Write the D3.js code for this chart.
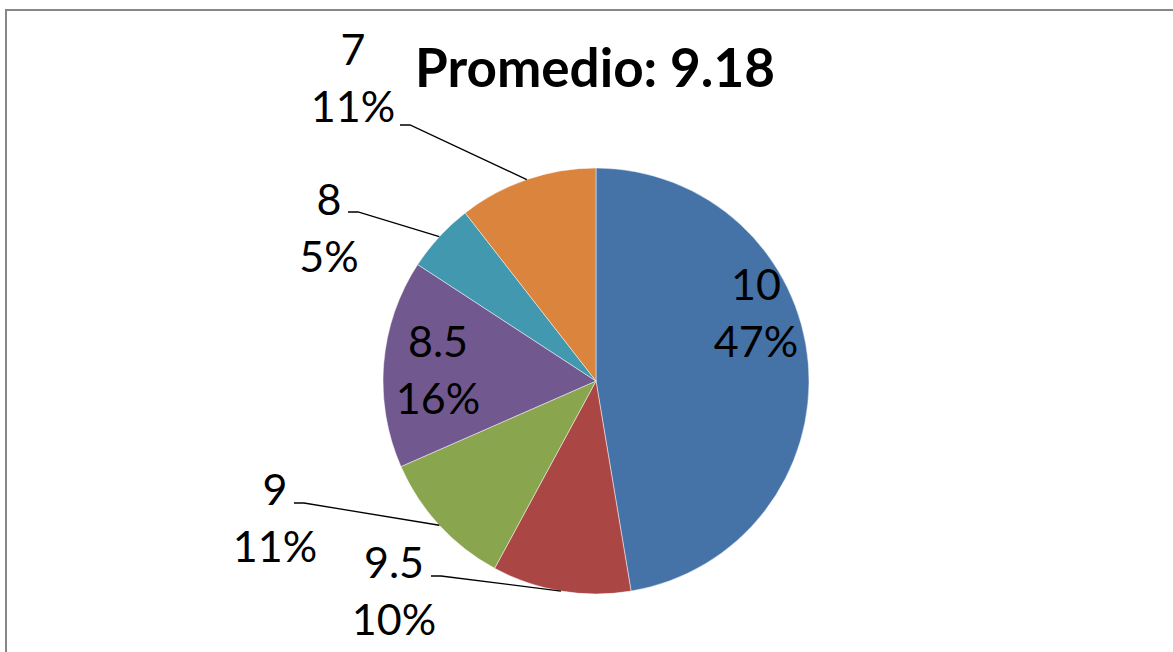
<!DOCTYPE html>
<html>
<head>
<meta charset="utf-8">
<script src="https://cdn.jsdelivr.net/npm/d3@7"></script>
<style>
  html, body { margin: 0; padding: 0; background: #fff; }
  svg { display: block; }
  text { font-family: Lato, "Liberation Sans", sans-serif; fill: #000; }
</style>
</head>
<body>
<script>
// grades and how many students got each one
const grades = ['10', '9.5', '9', '8.5', '8', '7'];
const counts = [9, 2, 2, 3, 1, 2];
const pctLabels = ['47%', '10%', '11%', '16%', '5%', '11%'];
const colors = ['#4572A7', '#AA4643', '#89A54E', '#71588F', '#4198AF', '#DB843D'];
const titleText = 'Promedio: 9.18';

// where Excel put each label (center x, first baseline y) and the leader line start (lx, ly)
const labelPos = [
  {x: 756, y: 300, leader: false},
  {x: 394, y: 578, leader: true, lx: 431, ly: 576},
  {x: 275, y: 505, leader: true, lx: 294, ly: 503},
  {x: 438, y: 357, leader: false},
  {x: 329, y: 215, leader: true, lx: 348, ly: 212},
  {x: 353, y: 65, leader: true, lx: 400, ly: 125}
];

const w = 1173, h = 652;
const cx = 596, cy = 381, r = 213;
const lineGap = 57;

const svg = d3.select('body').append('svg')
    .attr('width', w)
    .attr('height', h);

svg.append('rect')
    .attr('x', 6).attr('y', 10)
    .attr('width', 1300).attr('height', 800)
    .attr('fill', '#fff')
    .attr('stroke', '#878787')
    .attr('stroke-width', 2);

const data = grades.map((g, i) => ({grade: g, count: counts[i], pct: pctLabels[i], color: colors[i], pos: labelPos[i]}));

const pie = d3.pie().value(d => d.count).sort(null);
const arc = d3.arc().innerRadius(0).outerRadius(r);
const arcs = pie(data);

const g = svg.append('g').attr('transform', 'translate(' + cx + ',' + cy + ')');

g.selectAll('path')
    .data(arcs)
    .enter()
    .append('path')
    .attr('d', arc)
    .attr('fill', d => d.data.color)
    .attr('stroke', 'rgba(255,255,255,0.6)')
    .attr('stroke-width', 0.8);

// leader lines: from label, short horizontal tick, then to the middle of the slice edge
arcs.filter(d => d.data.pos.leader).forEach(d => {
    const mid = (d.startAngle + d.endAngle) / 2;
    const ex = cx + r * Math.sin(mid);
    const ey = cy - r * Math.cos(mid);
    const p = d.data.pos;
    svg.append('path')
        .attr('d', 'M' + p.lx + ',' + p.ly + 'L' + (p.lx + 10) + ',' + p.ly + 'L' + ex + ',' + ey)
        .attr('fill', 'none')
        .attr('stroke', '#000')
        .attr('stroke-width', 1.3);
});

const labels = svg.selectAll('.lbl')
    .data(arcs)
    .enter()
    .append('text')
    .attr('class', 'lbl')
    .attr('text-anchor', 'middle')
    .style('font-size', '43px');
labels.append('tspan')
    .attr('x', d => d.data.pos.x)
    .attr('y', d => d.data.pos.y)
    .text(d => d.data.grade);
labels.append('tspan')
    .attr('x', d => d.data.pos.x)
    .attr('y', d => d.data.pos.y + lineGap)
    .text(d => d.data.pct);

svg.append('text')
    .attr('x', 595)
    .attr('y', 87)
    .attr('text-anchor', 'middle')
    .style('font-size', '53px')
    .style('font-weight', 'bold')
    .text(titleText);
</script>
</body>
</html>
